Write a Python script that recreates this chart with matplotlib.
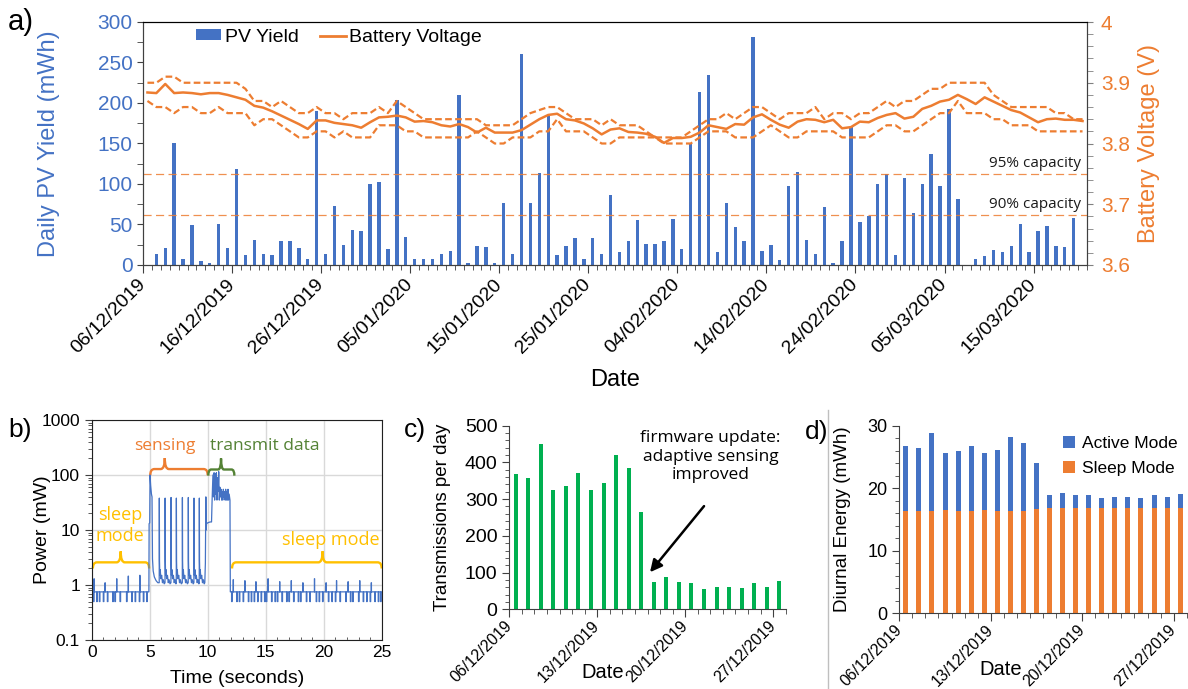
import numpy as np
import pandas as pd
import matplotlib
matplotlib.use('Agg')
import matplotlib.pyplot as plt
import matplotlib.transforms as mtransforms
from matplotlib.path import Path
from matplotlib.patches import PathPatch, Patch
from matplotlib.lines import Line2D
from matplotlib.ticker import MultipleLocator, FixedLocator, LogLocator, NullFormatter, FuncFormatter

plt.rcParams['font.family'] = ['Liberation Sans', 'DejaVu Sans']

BLUE = '#4472C4'
ORANGE = '#ED7D31'
GREEN = '#00B050'
YELLOW = '#FFC000'
DGREEN = '#548235'
AXC = '#404040'
NOTE_FONT = ['Open Sans', 'DejaVu Sans']

# a) daily PV yield (mWh) and battery voltage (V), one value per day from 06/12/2019
start_a = '2019-12-06'
pv_yield = [0, 13, 21, 150, 8, 49, 5, 3, 51, 21, 118, 12, 31, 13, 12, 30, 30, 21, 8, 190,
            13, 73, 25, 43, 42, 100, 102, 20, 204, 34, 7, 8, 7, 14, 17, 210, 2, 23, 22, 2,
            76, 13, 260, 77, 113, 184, 12, 24, 33, 8, 33, 14, 86, 16, 30, 56, 26, 26, 30, 57,
            20, 150, 214, 234, 16, 76, 47, 30, 282, 17, 25, 6, 98, 115, 31, 14, 71, 3, 30, 170,
            53, 61, 100, 112, 12, 107, 64, 100, 137, 98, 193, 82, 0, 8, 11, 18, 16, 24, 50, 16,
            42, 48, 24, 22, 58, 0]
v_mean = [3.884, 3.883, 3.898, 3.883, 3.884, 3.883, 3.881, 3.883, 3.883, 3.880,
          3.876, 3.872, 3.862, 3.859, 3.853, 3.846, 3.839, 3.832, 3.824, 3.838,
          3.838, 3.834, 3.832, 3.830, 3.826, 3.835, 3.843, 3.844, 3.846, 3.843,
          3.836, 3.837, 3.835, 3.830, 3.828, 3.832, 3.827, 3.818, 3.826, 3.818,
          3.818, 3.818, 3.822, 3.831, 3.840, 3.847, 3.849, 3.840, 3.838, 3.833,
          3.825, 3.815, 3.823, 3.825, 3.819, 3.818, 3.816, 3.811, 3.801, 3.809,
          3.809, 3.811, 3.818, 3.830, 3.827, 3.824, 3.832, 3.831, 3.843, 3.848,
          3.839, 3.831, 3.826, 3.836, 3.840, 3.839, 3.835, 3.839, 3.825, 3.827,
          3.836, 3.835, 3.842, 3.847, 3.850, 3.841, 3.844, 3.857, 3.862, 3.869,
          3.872, 3.880, 3.873, 3.865, 3.876, 3.869, 3.862, 3.855, 3.851, 3.843,
          3.835, 3.840, 3.841, 3.839, 3.839, 3.837]
v_max = [3.90, 3.90, 3.91, 3.91, 3.90, 3.90, 3.90, 3.90, 3.90, 3.90,
         3.90, 3.89, 3.87, 3.87, 3.86, 3.87, 3.86, 3.85, 3.85, 3.86,
         3.85, 3.85, 3.84, 3.85, 3.85, 3.85, 3.86, 3.85, 3.87, 3.86,
         3.85, 3.84, 3.84, 3.84, 3.84, 3.84, 3.84, 3.84, 3.83, 3.83,
         3.83, 3.83, 3.84, 3.85, 3.855, 3.86, 3.86, 3.85, 3.84, 3.84,
         3.84, 3.83, 3.84, 3.83, 3.83, 3.83, 3.82, 3.81, 3.81, 3.81,
         3.81, 3.82, 3.83, 3.84, 3.84, 3.85, 3.84, 3.85, 3.86, 3.86,
         3.85, 3.84, 3.85, 3.85, 3.85, 3.86, 3.84, 3.85, 3.85, 3.84,
         3.85, 3.85, 3.86, 3.87, 3.86, 3.87, 3.87, 3.88, 3.89, 3.89,
         3.90, 3.90, 3.90, 3.90, 3.90, 3.88, 3.87, 3.86, 3.86, 3.86,
         3.86, 3.86, 3.85, 3.85, 3.84, 3.84]
v_min = [3.87, 3.86, 3.86, 3.85, 3.86, 3.86, 3.85, 3.85, 3.86, 3.85,
         3.85, 3.85, 3.83, 3.84, 3.84, 3.83, 3.82, 3.81, 3.81, 3.82,
         3.82, 3.81, 3.82, 3.81, 3.81, 3.81, 3.83, 3.83, 3.83, 3.82,
         3.82, 3.81, 3.81, 3.81, 3.81, 3.81, 3.81, 3.82, 3.81, 3.80,
         3.80, 3.81, 3.81, 3.81, 3.82, 3.82, 3.84, 3.82, 3.82, 3.82,
         3.81, 3.80, 3.80, 3.81, 3.81, 3.81, 3.81, 3.81, 3.80, 3.80,
         3.80, 3.80, 3.81, 3.82, 3.82, 3.82, 3.81, 3.81, 3.81, 3.82,
         3.83, 3.82, 3.81, 3.81, 3.82, 3.82, 3.82, 3.82, 3.81, 3.81,
         3.81, 3.81, 3.82, 3.83, 3.83, 3.82, 3.82, 3.83, 3.84, 3.85,
         3.85, 3.87, 3.85, 3.85, 3.85, 3.84, 3.84, 3.83, 3.83, 3.83,
         3.82, 3.82, 3.82, 3.82, 3.82, 3.82]
cap_levels = [3.75, 3.683]
cap_labels = ['95% capacity', '90% capacity']

# b) power trace (mW) over 25 s
sleep_base = 0.75
sleep_low = 0.5
sleep_dip_t = [0.15, 0.43, 0.66, 1.0, 1.35, 1.81, 2.0, 2.44, 3.0, 3.45, 3.74, 4.1, 4.45, 4.74,
               12.06, 12.5, 12.72, 13.05, 13.5, 13.75, 14.0, 14.3, 14.6, 14.9, 15.05, 15.5,
               15.8, 16.0, 16.4, 16.8, 17.0, 17.4, 17.8, 18.0, 18.5, 18.8, 19.35, 19.6, 19.9,
               20.4, 20.7, 21.0, 21.4, 21.9, 22.3, 22.5, 23.0, 23.4, 23.7, 24.0, 24.4, 24.7, 24.9]
sleep_up_t = [0.2, 1.15, 2.15, 3.15, 4.15, 12.2, 13.2, 14.15, 15.2, 16.2, 17.2, 18.2,
              19.2, 20.2, 21.1, 22.1, 23.1, 24.1]
sleep_up_p = [1.3, 1.1, 1.3, 1.45, 1.5, 1.25, 1.2, 1.15, 1.3, 1.15, 1.2, 1.1,
              1.3, 1.1, 1.2, 1.15, 1.2, 1.1]
wake_t = [4.93, 4.95, 5.0, 5.03, 5.08, 5.15, 5.2, 5.24, 5.3, 5.4, 5.55, 5.7]
wake_p = [0.75, 13, 13.5, 100, 65, 45, 40, 3, 1.8, 1.4, 1.2, 1.1]
pulse_t = [5.83, 6.33, 6.84, 7.3, 7.82, 8.33, 8.82, 9.28]
pulse_p = [38, 38, 39, 38, 39, 39, 38, 38]
decay_dt = [0.015, 0.04, 0.08, 0.13, 0.2, 0.27, 0.34, 0.42]
decay_p = [2.8, 1.5, 1.9, 1.3, 1.5, 1.1, 1.25, 1.05]
radio_t = [9.75, 9.8, 9.84, 9.87, 9.9, 10.0, 10.2, 10.33, 10.38, 10.45, 10.5, 10.55, 10.6,
           10.65, 10.7, 10.75, 10.8, 10.85, 10.9, 10.95, 11.0, 11.05, 11.1, 11.15, 11.2,
           11.25, 11.3, 11.35, 11.4, 11.45, 11.5, 11.55, 11.6, 11.65, 11.7, 11.75, 11.8,
           11.85, 11.92, 11.95]
radio_p = [1.1, 2.5, 40, 10, 13, 13.5, 14, 14, 35, 100, 40, 110, 35, 105, 45, 110, 35, 90,
           50, 115, 35, 60, 40, 55, 35, 50, 35, 55, 40, 50, 35, 55, 35, 50, 35, 55, 35,
           45, 35, 0.75]

# c) transmissions per day, 06/12/2019 .. 27/12/2019
start_cd = '2019-12-06'
transmissions = [368, 357, 450, 324, 336, 370, 325, 344, 421, 385, 266,
                 75, 87, 74, 71, 56, 60, 60, 57, 72, 62, 76]

# d) diurnal energy (mWh)
sleep_energy = [16.4, 16.4, 16.3, 16.5, 16.4, 16.4, 16.5, 16.4, 16.3, 16.4, 16.6,
                16.8, 16.8, 16.8, 16.8, 16.8, 16.8, 16.8, 16.8, 16.8, 16.8, 16.8]
active_energy = [10.3, 10.0, 12.6, 9.1, 9.5, 10.3, 9.2, 9.7, 11.9, 10.8, 7.5,
                 2.1, 2.5, 2.1, 2.1, 1.6, 1.8, 1.8, 1.7, 2.1, 1.8, 2.2]

W, H = 1188, 689
fig = plt.figure(figsize=(W / 100, H / 100), dpi=100)


def px_axes(left, right, top, bottom):
    return fig.add_axes([left / W, 1 - bottom / H, (right - left) / W, (bottom - top) / H])


def date_ticks(ax, n, start, step, size, pad, shift):
    dates = pd.date_range(start, periods=n)
    ax.xaxis.set_major_locator(FixedLocator(np.arange(0, n, step) - 0.5))
    ax.xaxis.set_minor_locator(FixedLocator(np.arange(n + 1) - 0.5))
    labels = ax.set_xticklabels(dates[::step].strftime('%d/%m/%Y'), rotation=45, ha='right',
                                va='center', rotation_mode='anchor', fontsize=size)
    off = mtransforms.ScaledTranslation(shift / 100, 0, fig.dpi_scale_trans)
    for lab in labels:
        lab.set_transform(lab.get_transform() + off)
    ax.tick_params(axis='x', which='major', length=6, pad=pad, color=AXC)
    ax.tick_params(axis='x', which='minor', length=3.5, color=AXC)


def brace(ax, x0, x1, xm, y, color, r=0.35, tip=0.028, peak=0.05):
    trans = mtransforms.blended_transform_factory(ax.transData, ax.transAxes)
    verts = [(x0, y - tip), (x0, y), (x0 + r, y), (xm - r, y), (xm, y), (xm, y + peak),
             (xm, y), (xm + r, y), (x1 - r, y), (x1, y), (x1, y - tip)]
    codes = [Path.MOVETO, Path.CURVE3, Path.CURVE3, Path.LINETO, Path.CURVE3, Path.CURVE3,
             Path.CURVE3, Path.CURVE3, Path.LINETO, Path.CURVE3, Path.CURVE3]
    ax.add_patch(PathPatch(Path(verts, codes), transform=trans, fill=False,
                           edgecolor=color, lw=1.7, clip_on=False))


# ---------- a) ----------
ax_a = px_axes(143, 1087, 22, 265)
n_a = len(pv_yield)
x_a = np.arange(n_a)
ax_a.bar(x_a, pv_yield, width=0.38, color=BLUE, zorder=2)
ax_a.set_xlim(-0.5, n_a - 0.5)
ax_a.set_ylim(0, 300)
ax_a.yaxis.set_major_locator(MultipleLocator(50))
ax_a.yaxis.set_minor_locator(MultipleLocator(25))
ax_a.tick_params(axis='y', which='both', length=4, color=AXC, labelcolor=BLUE, labelsize=15)
date_ticks(ax_a, n_a, start_a, 10, 14, 6, 5)
for s in ['left', 'bottom', 'right']:
    ax_a.spines[s].set_color(AXC)
ax_a.spines['top'].set_color('black')
ax_a.set_ylabel('Daily PV Yield (mWh)', color=BLUE, fontsize=17)
ax_a.yaxis.set_label_coords(-0.088, 0.5)
ax_a.set_xlabel('Date', fontsize=17)
ax_a.xaxis.set_label_coords(0.5, -0.43)

ax_v = ax_a.twinx()
ax_v.plot(x_a, v_mean, color=ORANGE, lw=1.8)
ax_v.plot(x_a, v_max, color=ORANGE, lw=1.6, ls=(0, (3, 1.5)))
ax_v.plot(x_a, v_min, color=ORANGE, lw=1.6, ls=(0, (3, 1.5)))
for lev, lab in zip(cap_levels, cap_labels):
    ax_v.axhline(lev, color=ORANGE, lw=0.9, ls=(0, (6.5, 3.5)), alpha=0.85)
    ax_v.text(n_a - 1.2, lev + 0.004, lab, ha='right', va='bottom', fontsize=11,
              family=NOTE_FONT, color='#1a1a1a')
ax_v.set_ylim(3.6, 4.0)
ax_v.yaxis.set_major_locator(MultipleLocator(0.1))
ax_v.yaxis.set_minor_locator(MultipleLocator(0.02))
ax_v.yaxis.set_major_formatter(FuncFormatter(lambda v, p: f'{v:g}'))
ax_v.tick_params(axis='y', which='both', length=4, color='#808080', labelcolor=ORANGE,
                 labelsize=15, pad=6)
for s in ['left', 'bottom', 'right']:
    ax_v.spines[s].set_color(AXC)
ax_v.spines['top'].set_color('black')
ax_v.set_ylabel('Battery Voltage (V)', color=ORANGE, fontsize=17)
ax_v.yaxis.set_label_coords(1.054, 0.5)

leg_a = [Patch(facecolor=BLUE, label='PV Yield'),
         Line2D([], [], color=ORANGE, lw=2, label='Battery Voltage')]
ax_a.legend(handles=leg_a, loc='upper left', bbox_to_anchor=(0.056, 0.972), ncol=2,
            frameon=False, fontsize=14, handlelength=1.3, handleheight=0.5,
            columnspacing=1.1, handletextpad=0.2, borderaxespad=0, borderpad=0)

# ---------- b) ----------
ax_b = px_axes(91.7, 381.7, 420, 640)
t_b, p_b = [0.0], [sleep_base]


def add_sleep(t0, t1):
    ev = [(t, sleep_low, 0.05) for t in sleep_dip_t if t0 < t < t1]
    ev += [(t, p, 0.015) for t, p in zip(sleep_up_t, sleep_up_p) if t0 < t < t1]
    for t, p, w in sorted(ev):
        t_b.extend([t, t, t + w, t + w])
        p_b.extend([sleep_base, p, p, sleep_base])
    t_b.append(t1)
    p_b.append(sleep_base)


add_sleep(0.0, 4.93)
t_b.extend(wake_t)
p_b.extend(wake_p)
for tp, pp in zip(pulse_t, pulse_p):
    t_b.extend([tp - 0.01, tp] + [tp + d for d in decay_dt])
    p_b.extend([1.1, pp] + decay_p)
t_b.extend(radio_t)
p_b.extend(radio_p)
add_sleep(11.95, 25.0)
ax_b.plot(t_b, p_b, color=BLUE, lw=0.9)

ax_b.set_yscale('log')
ax_b.set_ylim(0.1, 1000)
ax_b.set_xlim(0, 25)
ax_b.xaxis.set_major_locator(MultipleLocator(5))
ax_b.xaxis.set_minor_locator(MultipleLocator(1))
ax_b.yaxis.set_major_locator(LogLocator(base=10))
ax_b.yaxis.set_minor_locator(LogLocator(base=10, subs=np.arange(2, 10)))
ax_b.yaxis.set_major_formatter(FuncFormatter(lambda v, p: f'{v:g}'))
ax_b.yaxis.set_minor_formatter(NullFormatter())
ax_b.grid(True, which='major', color='#D9D9D9', lw=1)
ax_b.set_axisbelow(True)
ax_b.tick_params(axis='x', which='both', direction='in', color=AXC, labelsize=12.5)
ax_b.tick_params(axis='x', which='major', length=0)
ax_b.tick_params(axis='y', which='major', length=5, color=AXC, labelsize=12.5)
ax_b.tick_params(axis='y', which='minor', length=3, color=AXC)
for s in ax_b.spines.values():
    s.set_color('#202020')
ax_b.set_ylabel('Power (mW)', fontsize=14)
ax_b.yaxis.set_label_coords(-0.14, 0.5)
ax_b.set_xlabel('Time (seconds)', fontsize=14)
ax_b.xaxis.set_label_coords(0.5, -0.135)

brace(ax_b, 0.1, 4.95, 2.5, 0.353, YELLOW)
brace(ax_b, 5.05, 10.0, 6.3, 0.777, ORANGE)
brace(ax_b, 10.05, 12.3, 11.15, 0.775, DGREEN, r=0.25)
brace(ax_b, 12.1, 25.0, 19.9, 0.353, YELLOW)
ax_b.text(6.3, 0.883, 'sensing', transform=ax_b.get_xaxis_transform(), ha='center',
          va='center', color=ORANGE, fontsize=12.5, family=NOTE_FONT)
ax_b.text(14.9, 0.883, 'transmit data', transform=ax_b.get_xaxis_transform(), ha='center',
          va='center', color=DGREEN, fontsize=12.5, family=NOTE_FONT)
ax_b.text(2.45, 0.52, 'sleep\nmode', transform=ax_b.get_xaxis_transform(), ha='center',
          va='center', color=YELLOW, fontsize=13, family=NOTE_FONT, linespacing=1.25)
ax_b.text(20.65, 0.455, 'sleep mode', transform=ax_b.get_xaxis_transform(), ha='center',
          va='center', color=YELLOW, fontsize=13, family=NOTE_FONT)

# ---------- c) ----------
ax_c = px_axes(509.3, 785.7, 425.7, 609.3)
n_c = len(transmissions)
x_c = np.arange(n_c)
ax_c.bar(x_c, transmissions, width=0.32, color=GREEN)
ax_c.set_xlim(-0.5, n_c - 0.5)
ax_c.set_ylim(0, 500)
ax_c.yaxis.set_major_locator(MultipleLocator(100))
ax_c.yaxis.set_minor_locator(MultipleLocator(20))
ax_c.tick_params(axis='y', which='major', length=5, color=AXC, labelsize=14)
ax_c.tick_params(axis='y', which='minor', length=3, color=AXC)
date_ticks(ax_c, n_c, start_cd, 7, 11.5, 4, 6)
ax_c.spines[['top', 'right']].set_visible(False)
ax_c.spines[['left', 'bottom']].set_color(AXC)
ax_c.set_ylabel('Transmissions per day', fontsize=13.5)
ax_c.yaxis.set_label_coords(-0.21, 0.5)
ax_c.set_xlabel('Date', fontsize=14.5)
ax_c.xaxis.set_label_coords(0.339, -0.29)
ax_c.annotate('', xy=(10.7, 101), xytext=(15.0, 281),
              arrowprops=dict(arrowstyle='-|>', color='black', lw=1.8, mutation_scale=18,
                              shrinkA=0, shrinkB=0))
ax_c.text(15.5, 487, 'firmware update:\nadaptive sensing\nimproved', ha='center', va='top',
          fontsize=12.5, family=NOTE_FONT, linespacing=1.2)

# ---------- d) ----------
ax_d = px_axes(899.3, 1186.7, 425.7, 613.3)
n_d = len(sleep_energy)
x_d = np.arange(n_d)
ax_d.bar(x_d, sleep_energy, width=0.38, color=ORANGE)
ax_d.bar(x_d, active_energy, width=0.38, bottom=sleep_energy, color=BLUE)
ax_d.set_xlim(-0.5, n_d - 0.5)
ax_d.set_ylim(0, 30)
ax_d.yaxis.set_major_locator(MultipleLocator(10))
ax_d.yaxis.set_minor_locator(MultipleLocator(2))
ax_d.tick_params(axis='y', which='major', length=5, color=AXC, labelsize=13)
ax_d.tick_params(axis='y', which='minor', length=3, color=AXC)
date_ticks(ax_d, n_d, start_cd, 7, 11.5, 4, 6)
ax_d.spines[['top', 'right']].set_visible(False)
ax_d.spines[['left', 'bottom']].set_color(AXC)
ax_d.set_ylabel('Diurnal Energy (mWh)', fontsize=13.5)
ax_d.yaxis.set_label_coords(-0.168, 0.5)
ax_d.set_xlabel('Date', fontsize=14.5)
ax_d.xaxis.set_label_coords(0.354, -0.25)
leg_d = [Patch(facecolor=BLUE, label='Active Mode'), Patch(facecolor=ORANGE, label='Sleep Mode')]
ax_d.legend(handles=leg_d, loc='upper left', bbox_to_anchor=(0.57, 0.945), frameon=False,
            fontsize=12.5, handlelength=0.7, handleheight=0.7, handletextpad=0.4,
            labelspacing=0.55, borderaxespad=0, borderpad=0)

# panel letters and separator
fig.text(8 / W, 1 - 8 / H, 'a)', fontsize=21, va='top')
fig.text(8 / W, 1 - 418 / H, 'b)', fontsize=19, va='top')
fig.text(404 / W, 1 - 418 / H, 'c)', fontsize=19, va='top')
fig.text(805 / W, 1 - 420 / H, 'd)', fontsize=19, va='top')
fig.add_artist(Line2D([828 / W, 828 / W], [0, 1 - 410 / H], color='#BFBFBF', lw=1))

fig.savefig('out.png', dpi=100)
